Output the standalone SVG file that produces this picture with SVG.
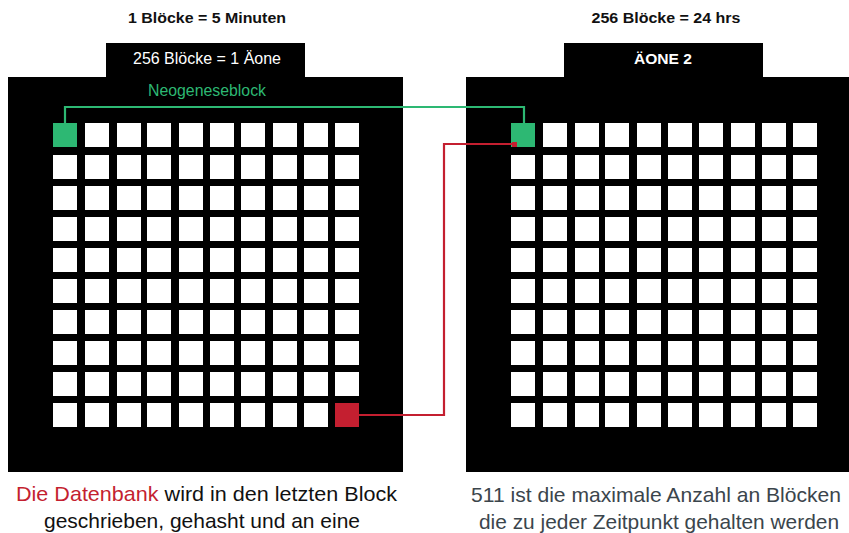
<svg xmlns="http://www.w3.org/2000/svg" xmlns:xlink="http://www.w3.org/1999/xlink" width="849" height="533" viewBox="0 0 849 533">
<style>
.t{font-family:"Liberation Sans",Arial,Helvetica,sans-serif;text-anchor:middle}
.hd{font-size:15.5px;font-weight:bold;fill:#111}
.tab{font-size:16px;fill:#fff}
.tabb{font-size:15.5px;font-weight:bold;fill:#fff}
.cap{font-size:21px;fill:#111}
.cap2{font-size:21px;fill:#3b454c}
.b{fill:#fff}
.panel{fill:#000}
.green{fill:#2db873}
.red{fill:#c41f30}
.conn{fill:none;stroke-width:2.2}
</style>
<defs>
<g id="row">
<rect class="b" x="0" y="0" width="24" height="24"/>
<rect class="b" x="32" y="0" width="24" height="24"/>
<rect class="b" x="64" y="0" width="24" height="24"/>
<rect class="b" x="94" y="0" width="24" height="24"/>
<rect class="b" x="126" y="0" width="24" height="24"/>
<rect class="b" x="157" y="0" width="24" height="24"/>
<rect class="b" x="188" y="0" width="24" height="24"/>
<rect class="b" x="220" y="0" width="24" height="24"/>
<rect class="b" x="251" y="0" width="24" height="24"/>
<rect class="b" x="282" y="0" width="24" height="24"/>
</g>
<g id="grid">
<use xlink:href="#row" href="#row" y="0"/>
<use xlink:href="#row" href="#row" y="32"/>
<use xlink:href="#row" href="#row" y="63"/>
<use xlink:href="#row" href="#row" y="94"/>
<use xlink:href="#row" href="#row" y="125"/>
<use xlink:href="#row" href="#row" y="156"/>
<use xlink:href="#row" href="#row" y="187"/>
<use xlink:href="#row" href="#row" y="218"/>
<use xlink:href="#row" href="#row" y="249"/>
<use xlink:href="#row" href="#row" y="280"/>
</g>
</defs>
<rect width="849" height="533" fill="#fff"/>

<g id="title-left">
<text class="t hd" x="207" y="23" textLength="158" lengthAdjust="spacingAndGlyphs">1 Blöcke = 5 Minuten</text>
</g>
<g id="title-right">
<text class="t hd" x="666" y="23" textLength="149" lengthAdjust="spacingAndGlyphs">256 Blöcke = 24 hrs</text>
</g>

<g id="aeon1">
<rect class="panel" x="106" y="43" width="199" height="36"/>
<rect class="panel" x="8" y="77" width="395" height="395"/>
<text class="t tab" x="207" y="64" textLength="148" lengthAdjust="spacingAndGlyphs">256 Blöcke = 1 Äone</text>
<text class="t" x="207" y="96" style="font-size:15.8px;fill:#2db873" textLength="118" lengthAdjust="spacingAndGlyphs">Neogeneseblock</text>
<use xlink:href="#grid" href="#grid" x="53" y="123"/>
</g>

<g id="aeon2">
<rect class="panel" x="564" y="43" width="199" height="36"/>
<rect class="panel" x="466" y="77" width="395" height="395"/>
<text class="t tabb" x="663" y="64" textLength="58" lengthAdjust="spacingAndGlyphs">ÄONE 2</text>
<use xlink:href="#grid" href="#grid" x="511" y="123"/>
</g>

<g id="genesis-block"><rect class="green" x="53" y="123" width="24" height="24"/></g>
<g id="last-block"><rect class="red" x="335" y="403" width="24" height="24"/></g>
<g id="aeon2-first-block"><rect class="green" x="511" y="123" width="24" height="24"/></g>

<g id="connectors">
<path class="conn" stroke="#2db873" d="M65,124 V107 H524 V124"/>
<path class="conn" stroke="#c41f30" d="M358,415 H444 V144 H513"/>
<rect class="red" x="512" y="142" width="5" height="5"/>
</g>

<g id="caption-left">
<text class="t cap" x="206.5" y="501" textLength="381" lengthAdjust="spacingAndGlyphs"><tspan fill="#c41f30">Die Datenbank</tspan> wird in den letzten Block</text>
<text class="t cap" x="202" y="528" textLength="316" lengthAdjust="spacingAndGlyphs">geschrieben, gehasht und an eine</text>
</g>
<g id="caption-right">
<text class="t cap2" x="656" y="502" textLength="370" lengthAdjust="spacingAndGlyphs">511 ist die maximale Anzahl an Blöcken</text>
<text class="t cap2" x="659" y="529" textLength="360" lengthAdjust="spacingAndGlyphs">die zu jeder Zeitpunkt gehalten werden</text>
</g>
</svg>
